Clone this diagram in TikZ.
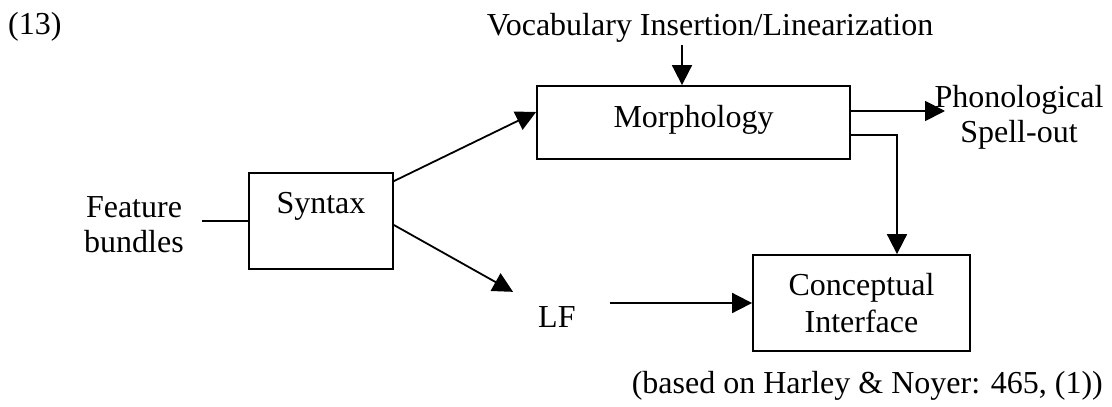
\documentclass[tikz,border=0pt]{standalone}
\usepackage{fontspec}
\setmainfont{Liberation Serif}
\usetikzlibrary{arrows.meta,calc}
\begin{document}
\begin{tikzpicture}[x=1pt,y=-1pt,
  every node/.style={font=\fontsize{32}{35}\selectfont},
  box/.style={draw,line width=1.8pt,inner sep=0pt,text height=22pt},
  plain/.style={inner sep=0pt},
  conn/.style={line width=1.8pt},
  arr/.style={conn,-{Triangle[length=20pt,width=20pt]}}
]
\useasboundingbox (0,0) rectangle (1112,407);

% labels (multi-line nodes are placed by the baseline of their last line)
\node[plain,anchor=base west] (num) at (8,34) {(13)};
\node[plain,anchor=base] (vocab) at (710,35) {Vocabulary Insertion/Linearization};
\node[plain,align=center,anchor=base,inner xsep=18pt] (feat) at (134,252) {Feature\\bundles};
\node[plain,anchor=base west] (LF) at (538,327) {LF};
\node[plain,align=center,anchor=base] (phon) at (1019,142) {Phonological\\Spell-out};
\node[plain,anchor=base east] (cap) at (1103,393) {(based on Harley \& Noyer: 465, (1))};

% boxes
\node[box,minimum width=144pt,minimum height=96pt,text depth=38pt] (syn) at (321,221) {Syntax};
\node[box,minimum width=313pt,minimum height=73pt,text depth=13pt] (morph) at (693.5,122.5) {Morphology};
\node[box,minimum width=217pt,minimum height=96pt,text height=59pt,text depth=1pt,align=center,
      font=\fontsize{32}{37}\selectfont] (conc) at (861.5,303) {Conceptual\\Interface};

% connector end points
\coordinate (vin) at (682,45);
\coordinate (lfin) at ($(LF.north west)+(-25,-14)$);
\coordinate (lfout) at ($(LF.east)+(34,0)$);
\coordinate (phin) at (945,111);
\coordinate (bend) at (897,135);

% connectors
\draw[conn] (feat.east |- syn.west) -- (syn.west);
\draw[arr] ([yshift=-9pt]syn.north east) -- ([yshift=10.5pt]morph.west);
\draw[arr] ([yshift=-4pt]syn.east) -- (lfin);
\draw[arr] (vin) -- (vin |- morph.north);
\draw[arr] (morph.east |- phin) -- (phin);
\draw[arr] (morph.east |- bend) -| (conc.north -| bend);
\draw[arr] (lfout |- conc.west) -- (conc.west);
\end{tikzpicture}
\end{document}
